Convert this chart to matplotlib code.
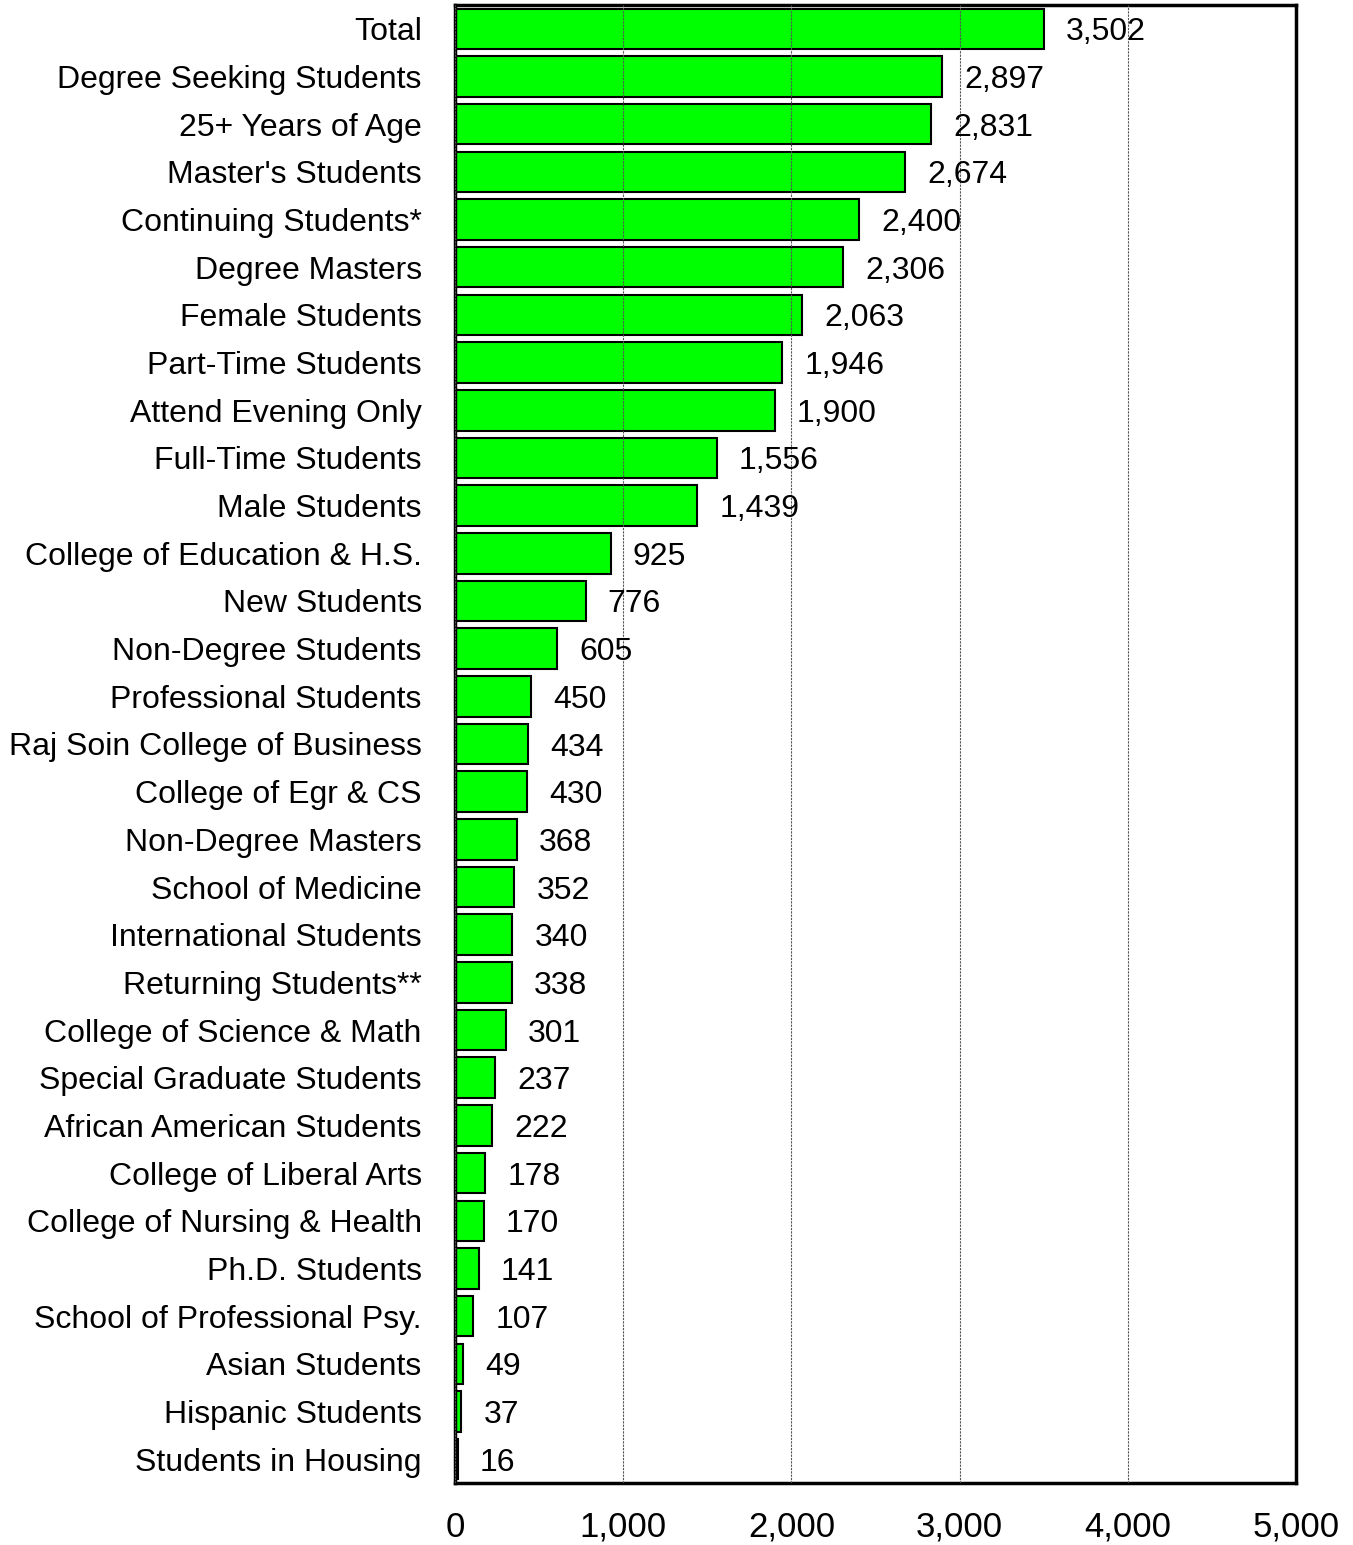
import matplotlib.pyplot as plt

categories = ["Total", "Degree Seeking Students", "25+ Years of Age", "Master's Students",
              "Continuing Students*", "Degree Masters", "Female Students", "Part-Time Students",
              "Attend Evening Only", "Full-Time Students", "Male Students",
              "College of Education & H.S.", "New Students", "Non-Degree Students",
              "Professional Students", "Raj Soin College of Business", "College of Egr & CS",
              "Non-Degree Masters", "School of Medicine", "International Students",
              "Returning Students**", "College of Science & Math", "Special Graduate Students",
              "African American Students", "College of Liberal Arts", "College of Nursing & Health",
              "Ph.D. Students", "School of Professional Psy.", "Asian Students",
              "Hispanic Students", "Students in Housing"]
values = [3502, 2897, 2831, 2674, 2400, 2306, 2063, 1946, 1900, 1556, 1439,
          925, 776, 605, 450, 434, 430, 368, 352, 340, 338, 301, 237, 222,
          178, 170, 141, 107, 49, 37, 16]
xticks = [0, 1000, 2000, 3000, 4000, 5000]

plt.rcParams['font.family'] = ['Liberation Sans', 'DejaVu Sans']

fig = plt.figure(figsize=(13.53, 15.45), dpi=100)
ax = fig.add_axes([455/1353, 1 - 1483/1545, (1296-455)/1353, (1483-5)/1545])

y = list(range(len(categories)))
ax.barh(y, values, height=0.85, color='#00ff00', edgecolor='black', linewidth=1.5, zorder=2)
for yi, v in zip(y, values):
    ax.annotate(f"{v:,}", (v, yi), xytext=(16, 0), textcoords='offset points',
                va='center_baseline', ha='left', fontsize=23, zorder=3)

ax.set_xlim(0, 5000)
ax.set_ylim(30.5, -0.5)
ax.set_yticks(y)
ax.set_yticklabels(categories, va='center_baseline')
ax.set_xticks(xticks)
ax.set_xticklabels([f"{t:,}" for t in xticks])
ax.tick_params(axis='y', length=0, pad=24, labelsize=23)
ax.tick_params(axis='x', length=0, pad=20, labelsize=25)
ax.xaxis.grid(True, color='#555555', linestyle=(0, (2, 1)), linewidth=0.8, zorder=4)
ax.set_axisbelow(False)
for s in ax.spines.values():
    s.set_linewidth(2.5)

fig.savefig('out.png', dpi=100)
